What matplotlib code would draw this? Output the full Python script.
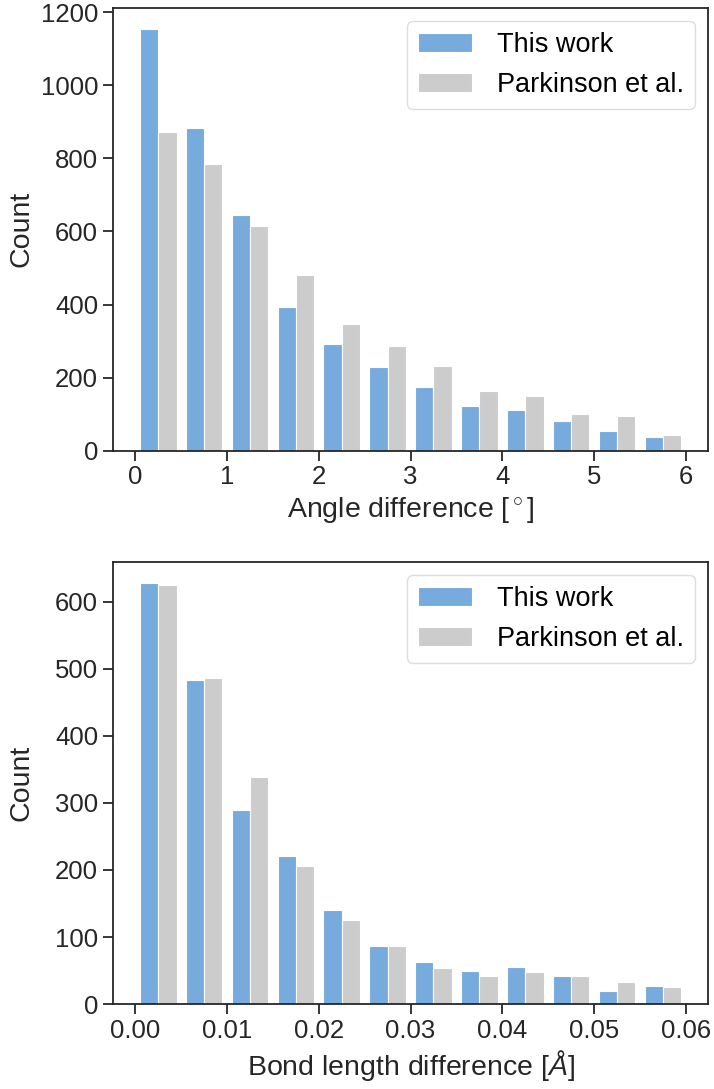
import numpy as np
import matplotlib
matplotlib.use("Agg")
import matplotlib.pyplot as plt

# bin edges for the two histograms
angle_edges = np.linspace(0, 6, 13)
bond_edges = np.linspace(0, 0.06, 13)

# counts per bin
angle_this_work = [1154, 884, 644, 393, 292, 230, 174, 123, 111, 82, 55, 38]
angle_parkinson = [872, 785, 616, 481, 348, 288, 233, 165, 151, 101, 94, 44]

bond_this_work = [628, 483, 290, 221, 141, 87, 62, 49, 56, 42, 20, 27]
bond_parkinson = [625, 486, 339, 206, 125, 86, 54, 42, 48, 42, 33, 25]

labels = ["This work", "Parkinson et al."]
colors = ["#77AADD", "#CCCCCC"]

plt.rcParams["font.family"] = ["Liberation Sans", "DejaVu Sans"]
plt.rcParams["mathtext.fontset"] = "custom"
plt.rcParams["mathtext.rm"] = "Liberation Sans"
plt.rcParams["mathtext.it"] = "Liberation Sans:italic"
plt.rcParams["axes.edgecolor"] = "#262626"
plt.rcParams["axes.linewidth"] = 1.3


def draw(ax, edges, a, b, xlabel):
    centers = (edges[:-1] + edges[1:]) / 2
    ax.hist([centers, centers], bins=edges, weights=[a, b], color=colors,
            label=labels, edgecolor="white", linewidth=0.8)
    ax.set_xlabel(xlabel, fontsize=20.5, color="#262626")
    ax.set_ylabel("Count", fontsize=20.5, color="#262626")
    ax.yaxis.set_label_coords(-0.132, 0.5)
    ax.tick_params(axis="both", labelsize=18.5, length=7, width=1.3,
                   color="#262626", labelcolor="#262626", direction="out")
    leg = ax.legend(loc="upper right", fontsize=19.5, handletextpad=0.9,
                    fancybox=True, framealpha=1.0)
    leg.get_frame().set_edgecolor("#DDDDDD")


fig = plt.figure(figsize=(7.14, 10.89), dpi=100)
ax1 = fig.add_axes([0.158, 0.586, 0.834, 0.4068])
ax2 = fig.add_axes([0.158, 0.078, 0.834, 0.406])

draw(ax1, angle_edges, angle_this_work, angle_parkinson, r"Angle difference [$^\circ$]")
draw(ax2, bond_edges, bond_this_work, bond_parkinson, r"Bond length difference [$Å$]")
ax2.set_xticks([0.0, 0.01, 0.02, 0.03, 0.04, 0.05, 0.06])
ax2.set_xticklabels(["0.00", "0.01", "0.02", "0.03", "0.04", "0.05", "0.06"])

fig.savefig("out.png", dpi=100)
